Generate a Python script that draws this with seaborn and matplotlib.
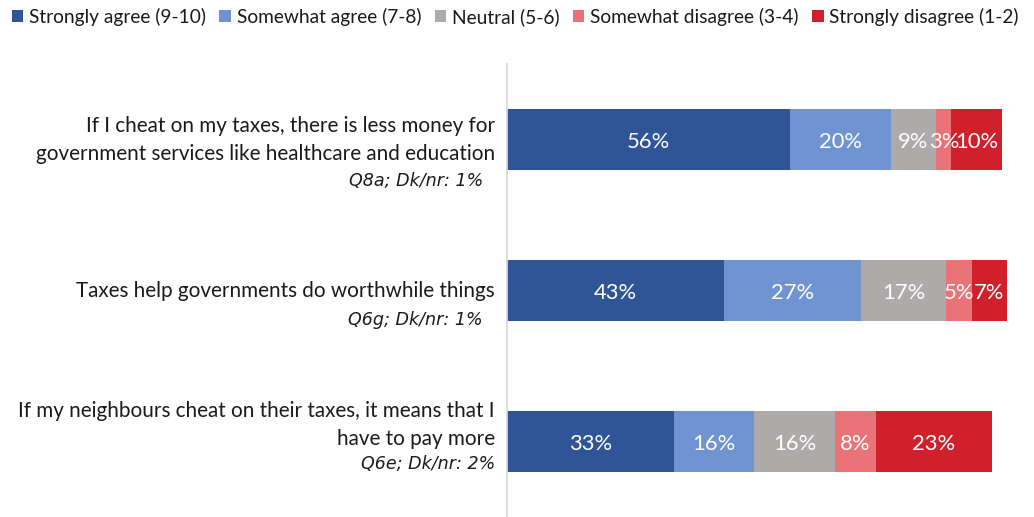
import matplotlib
matplotlib.use("Agg")
import matplotlib.pyplot as plt
from matplotlib.patches import Patch
import numpy as np
import seaborn as sns

# Survey statements (main text lines) and their footnotes
statement_lines = [
    ["If I cheat on my taxes, there is less money for",
     "government services like healthcare and education"],
    ["Taxes help governments do worthwhile things"],
    ["If my neighbours cheat on their taxes, it means that I",
     "have to pay more"],
]
footnotes = ["Q8a; Dk/nr: 1%", "Q6g; Dk/nr: 1%", "Q6e; Dk/nr: 2%"]
questions = ["Q8a", "Q6g", "Q6e"]

# Response categories and shares (%)
categories = ["Strongly agree (9-10)", "Somewhat agree (7-8)", "Neutral (5-6)",
              "Somewhat disagree (3-4)", "Strongly disagree (1-2)"]
strongly_agree = [56, 43, 33]
somewhat_agree = [20, 27, 16]
neutral = [9, 17, 16]
somewhat_disagree = [3, 5, 8]
strongly_disagree = [10, 7, 23]

colors = ["#2F5597", "#7094D2", "#AEAAAA", "#EA7377", "#D0202B"]

sns.set_theme(style="white")
plt.rcParams["font.family"] = ["Lato", "DejaVu Sans"]

series = np.array([strongly_agree, somewhat_agree, neutral,
                   somewhat_disagree, strongly_disagree], dtype=float)
cumulative = np.cumsum(series, axis=0)

W, H = 1034, 517
fig = plt.figure(figsize=(W / 100, H / 100), dpi=100)
ax = fig.add_axes([507 / W, 0, (1012 - 507) / W, 1 - 64 / H])

# Stacked bars: draw the running totals from the longest to the shortest
for k in range(len(categories) - 1, -1, -1):
    sns.barplot(x=cumulative[k], y=questions, orient="h", color=colors[k],
                saturation=1, width=0.4, linewidth=0, ax=ax)

ax.set_xlim(0, 100)
ax.set_ylim(2.5, -0.5)
ax.set_xlabel("")
ax.set_ylabel("")
ax.set_xticks([])
ax.set_yticks([])
for side in ["top", "right", "bottom"]:
    ax.spines[side].set_visible(False)
ax.spines["left"].set_color("#D9D9D9")
ax.spines["left"].set_linewidth(1.3)

# Value labels inside segments
for k in range(len(categories)):
    for i in range(len(questions)):
        v = series[k, i]
        ax.text(cumulative[k, i] - v / 2, i, f"{int(v)}%", color="white",
                ha="center", va="center_baseline", fontsize=15.8)

# Statement labels to the left of the axis (baseline offsets in pixels)
line_offsets = [[7.7, -20.3], [-6.3], [25, -3]]
note_offsets = [-46, -34, -27]
note_shift = [-12, -12, 0]
for i in range(len(questions)):
    for txt, dy in zip(statement_lines[i], line_offsets[i]):
        ax.annotate(txt, xy=(0, i), xycoords=("axes fraction", "data"),
                    xytext=(-12, dy), textcoords="offset pixels",
                    ha="right", va="baseline", fontsize=14.85, color="#1a1a1a",
                    annotation_clip=False)
    ax.annotate(footnotes[i], xy=(0, i), xycoords=("axes fraction", "data"),
                xytext=(-12 + note_shift[i], note_offsets[i]),
                textcoords="offset pixels", ha="right", va="baseline",
                fontsize=12.6, style="italic", color="#1a1a1a",
                family=["DejaVu Sans"],
                annotation_clip=False)

handles = [Patch(facecolor=c, edgecolor="none") for c in colors]
fig.legend(handles, categories, loc="upper left", bbox_to_anchor=(0.004, 1.0),
           ncol=5, frameon=False, fontsize=13.8, handlelength=0.6,
           handleheight=0.6, handletextpad=0.3, columnspacing=0.7,
           borderaxespad=0, labelcolor="#1a1a1a")

fig.savefig("out.png", dpi=100)
